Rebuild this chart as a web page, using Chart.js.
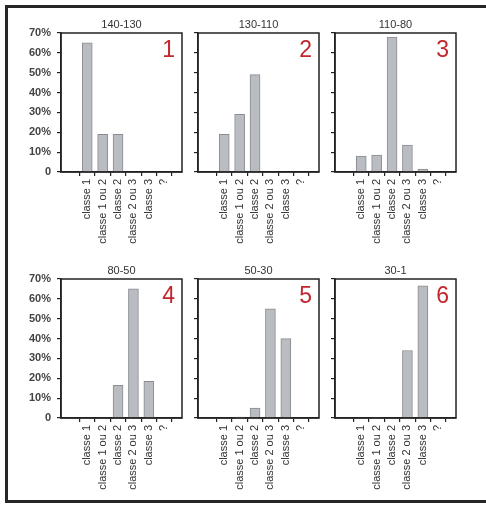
<!DOCTYPE html>
<html>
<head>
<meta charset="utf-8">
<script src="https://cdn.jsdelivr.net/npm/chart.js@4.4.0/dist/chart.umd.min.js"></script>
<style>
  html, body { margin: 0; padding: 0; background: #fff; }
  #wrap { position: relative; width: 486px; height: 506px; overflow: hidden; }
  #frame {
    position: absolute; left: 5px; top: 5px; width: 520px; height: 492px;
    border-left: 3px solid #262626; border-top: 3px solid #262626; border-bottom: 3px solid #262626;
  }
  canvas { position: absolute; }
</style>
</head>
<body>
<div id="wrap"><div id="frame"></div></div>
<script>
// Categories along the x axis (same for every panel)
const categories = ["classe 1", "classe 1 ou 2", "classe 2", "classe 2 ou 3", "classe 3", "?"]
const panelTitles = ["140-130", "130-110", "110-80", "80-50", "50-30", "30-1"]
const panelNumbers = ["1", "2", "3", "4", "5", "6"]

// Percent per category
const values140_130 = [65, 19, 19, 0, 0, 0]
const values130_110 = [19, 29, 49, 0, 0, 0]
const values110_80 = [8, 8.5, 68, 13.5, 1.5, 0]
const values80_50 = [0, 0, 16.5, 65, 18.5, 0]
const values50_30 = [0, 0.5, 5, 55, 40, 0]
const values30_1 = [0, 0.3, 0, 34, 66.5, 0]
const panelValues = [values140_130, values130_110, values110_80, values80_50, values50_30, values30_1]

const yTicks = [0, 10, 20, 30, 40, 50, 60, 70]

// Layout of the plot boxes
const plotLefts = [61, 198, 335]
const plotTops = [33, 279]
const plotWidth = 121
const plotHeight = 139
const titleH = 16
const xAxisH = 75
const FONT = "'Liberation Sans', Arial, sans-serif"

// Box around the plot area, title centred over it, red panel number
const framePlugin = {
  id: "frameBox",
  afterDraw(chart, args, opts) {
    const { ctx, chartArea } = chart
    ctx.save()
    ctx.strokeStyle = "#222"
    ctx.lineWidth = 1.5
    ctx.strokeRect(chartArea.left, chartArea.top, chartArea.right - chartArea.left, chartArea.bottom - chartArea.top)

    ctx.fillStyle = "#333"
    ctx.font = "11px " + FONT
    ctx.textAlign = "center"
    ctx.textBaseline = "middle"
    ctx.fillText(opts.title, (chartArea.left + chartArea.right) / 2, chartArea.top - 8)

    ctx.fillStyle = "#c1272d"
    ctx.font = "23px " + FONT
    ctx.textAlign = "right"
    ctx.textBaseline = "top"
    ctx.fillText(opts.label, chartArea.right - 7, chartArea.top + 6)
    ctx.restore()
  },
}

function makePanel(idx) {
  const col = idx % 3
  const row = Math.floor(idx / 3)
  const yW = col === 0 ? 46 : 8
  const w = yW + plotWidth + 4
  const h = titleH + plotHeight + xAxisH

  const canvas = document.createElement("canvas")
  canvas.width = w
  canvas.height = h
  canvas.style.width = w + "px"
  canvas.style.height = h + "px"
  canvas.style.left = plotLefts[col] - yW + "px"
  canvas.style.top = plotTops[row] - titleH + "px"
  document.getElementById("wrap").appendChild(canvas)

  const points = panelValues[idx].map((v, i) => ({ x: i, y: v }))

  new Chart(canvas, {
    type: "bar",
    data: {
      datasets: [
        {
          data: points,
          backgroundColor: "#b9bcc0",
          borderColor: "#8a8d91",
          borderWidth: 1,
          barThickness: 10,
        },
      ],
    },
    plugins: [framePlugin],
    options: {
      responsive: false,
      animation: false,
      devicePixelRatio: 1,
      layout: { padding: { left: 0, right: 4, top: titleH, bottom: 0 } },
      plugins: {
        legend: { display: false },
        tooltip: { enabled: false },
        title: { display: false },
        frameBox: { label: panelNumbers[idx], title: panelTitles[idx] },
      },
      scales: {
        x: {
          type: "linear",
          min: -1.05,
          max: 5.5,
          afterBuildTicks: (scale) => {
            scale.ticks = categories.map((c, i) => ({ value: i }))
          },
          afterFit: (scale) => {
            scale.height = xAxisH
          },
          ticks: {
            autoSkip: false,
            minRotation: 90,
            maxRotation: 90,
            padding: 3,
            color: "#333",
            font: { family: FONT, size: 11 },
            callback: (v) => categories[v],
          },
          grid: { drawOnChartArea: false, tickLength: 4, color: "#222", lineWidth: 1.2 },
          border: { display: true, color: "#222", width: 1.5 },
        },
        y: {
          min: 0,
          max: 70,
          afterBuildTicks: (scale) => {
            scale.ticks = yTicks.map((v) => ({ value: v }))
          },
          afterFit: (scale) => {
            scale.width = yW
          },
          ticks: {
            display: col === 0,
            padding: 6,
            color: "#444",
            font: { family: FONT, size: 11, weight: "bold" },
            callback: (v) => (v === 0 ? "0" : v + "%"),
          },
          grid: { drawOnChartArea: false, tickLength: 4, color: "#222", lineWidth: 1.2 },
          border: { display: true, color: "#222", width: 1.5 },
        },
      },
    },
  })
}

for (let i = 0; i < 6; i++) makePanel(i)
</script>
</body>
</html>
